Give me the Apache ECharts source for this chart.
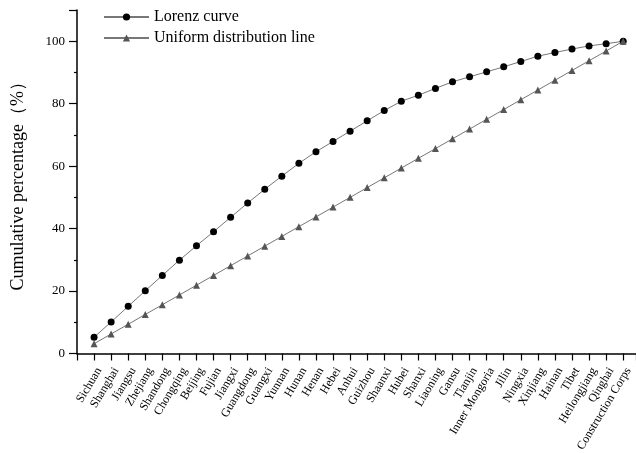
<!DOCTYPE html>
<html><head><meta charset="utf-8">
<script src="https://cdn.jsdelivr.net/npm/echarts@6/dist/echarts.min.js"></script>
<style>html,body{margin:0;padding:0;background:#fff}#c{width:636px;height:453px}</style>
</head><body><div id="c"></div>
<script>
const categories = ['Sichuan','Shanghai','Jiangsu','Zhejiang','Shandong','Chongqing','Beijing','Fujian','Jiangxi','Guangdong','Guangxi','Yunnan','Hunan','Henan','Hebei','Anhui','Guizhou','Shaanxi','Hubei','Shanxi','Liaoning','Gansu','Tianjin','Inner Mongoria','Jilin','Ningxia','Xinjiang','Hainan','Tibet','Heilongjiang','Qinghai','Construction Corps'];
const lorenz = [5.2,10.1,15.1,20.1,25.0,29.9,34.5,39.0,43.6,48.2,52.6,56.8,60.9,64.6,67.9,71.2,74.5,77.8,80.8,82.7,84.9,87.0,88.6,90.2,91.8,93.5,95.2,96.4,97.5,98.5,99.2,100];
const uniform = [3.125,6.25,9.375,12.5,15.625,18.75,21.875,25,28.125,31.25,34.375,37.5,40.625,43.75,46.875,50,53.125,56.25,59.375,62.5,65.625,68.75,71.875,75,78.125,81.25,84.375,87.5,90.625,93.75,96.875,100];
const yTicks = [0,20,40,60,80,100];

const font = 'Liberation Serif';
const chart = echarts.init(document.getElementById('c'), null, {renderer:'canvas'});
chart.setOption({
  animation:false,
  backgroundColor:'#fff',
  grid:{left:77, right:0, top:10, bottom:99.5, containLabel:false, outerBoundsMode:'none'},
  legend:{
    left:103, top:9, padding:0, orient:'vertical', itemWidth:45, itemHeight:9, itemGap:5,
    textStyle:{fontFamily:font, fontSize:16, color:'#000'},
    data:['Lorenz curve','Uniform distribution line']
  },
  xAxis:{
    type:'value', min:0, max:32.75, interval:1,
    splitLine:{show:false},
    axisLine:{lineStyle:{color:'#000', width:1.5}},
    axisTick:{show:true, inside:false, length:7, lineStyle:{color:'#000', width:1.2}},
    axisLabel:{
      rotate:59, margin:12, verticalAlign:'top', fontFamily:font, fontSize:12, color:'#000',
      formatter:function(v){ const i=Math.round(v); return (Math.abs(v-i)<1e-6 && i>=1 && i<=categories.length) ? categories[i-1] : ''; }
    }
  },
  yAxis:{
    type:'value', min:0, max:110, interval:20,
    name:'Cumulative percentage（%）', nameLocation:'middle', nameGap:50, nameRotate:90,
    nameTextStyle:{fontFamily:font, fontSize:18, color:'#000'},
    splitLine:{show:false},
    axisLine:{show:true, lineStyle:{color:'#000', width:1.5}},
    axisTick:{show:true, inside:false, length:8, lineStyle:{color:'#000', width:1.2}},
    minorTick:{show:true, splitNumber:2, length:3, lineStyle:{color:'#000', width:1.2}},
    axisLabel:{fontFamily:font, fontSize:13, color:'#000', margin:12,
      formatter:function(v){ return yTicks.indexOf(v)>=0 ? String(v) : ''; }}
  },
  series:[
    {name:'Lorenz curve', type:'line', symbol:'circle', symbolSize:7,
     itemStyle:{color:'#000'}, lineStyle:{color:'#777', width:1},
     data:lorenz.map((v,i)=>[i+1, v])},
    {name:'Uniform distribution line', type:'line', symbol:'triangle', symbolSize:7,
     itemStyle:{color:'#555'}, lineStyle:{color:'#777', width:1},
     data:uniform.map((v,i)=>[i+1, v])}
  ]
});
</script></body></html>
